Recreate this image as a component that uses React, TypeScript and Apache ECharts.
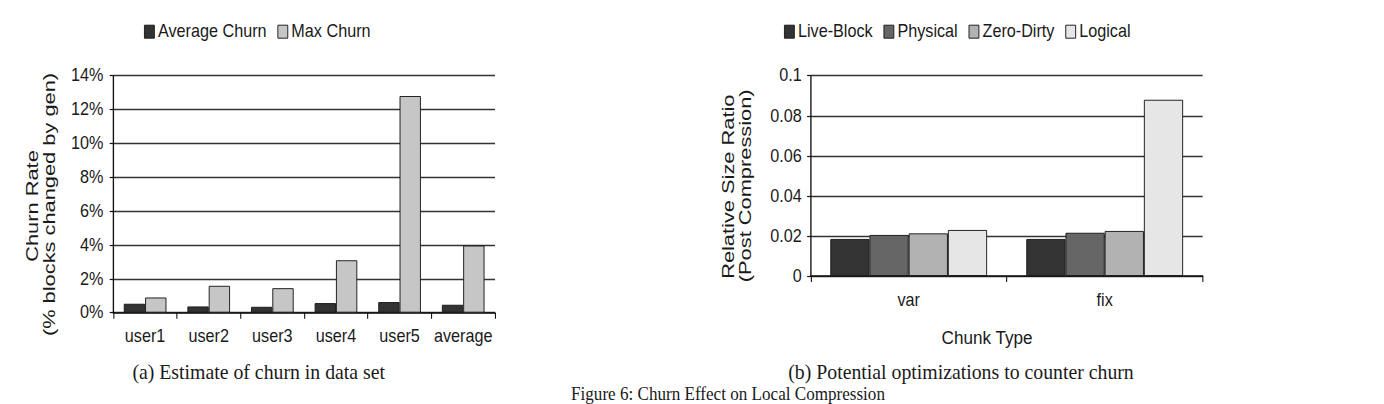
import React, { useEffect, useRef } from "react";
import * as echarts from "echarts";

// Figure artwork is laid out narrow: the whole canvas is drawn wider and squeezed horizontally.
const SQUEEZE = 0.9;
const PAGE_W = 1384;
const PAGE_H = 404;
const CHART_W = PAGE_W / SQUEEZE;
const sx = (v: number) => v / SQUEEZE;

// (a) churn per user, in percent
const churnUsers = ["user1", "user2", "user3", "user4", "user5", "average"];
const averageChurn = [0.53, 0.37, 0.35, 0.57, 0.63, 0.47];
const maxChurn = [0.9, 1.59, 1.45, 3.1, 12.8, 3.97];

// (b) relative size ratio after compression, per chunking type
const chunkTypes = ["var", "fix"];
const liveBlock = [0.0185, 0.0185];
const physical = [0.0205, 0.0216];
const zeroDirty = [0.0213, 0.0225];
const logical = [0.023, 0.088];

const SANS = "'Liberation Sans', Arial, Helvetica, sans-serif";
const SERIF = "'Liberation Serif', 'Times New Roman', Times, serif";
const INK = "#1a1a1a";

const barBorder = { borderColor: "#1a1a1a", borderWidth: 1 };

function axisCommon() {
  return {
    axisLine: { show: true, lineStyle: { color: "#111", width: 1.5 } },
    axisTick: { show: true, length: 4, lineStyle: { color: "#111", width: 1.2 } },
    splitLine: { show: true, lineStyle: { color: "#333", width: 1.4 } },
  };
}

function categoryAxis(gridIndex: number, data: string[]) {
  return {
    type: "category" as const,
    gridIndex,
    data,
    boundaryGap: true,
    axisLine: { show: true, lineStyle: { color: "#111", width: 1.5 } },
    axisTick: { show: true, interval: 0, length: 6, lineStyle: { color: "#111", width: 1.2 } },
    axisLabel: { interval: 0, margin: 15, color: INK, fontSize: 18, fontFamily: SANS },
    splitLine: { show: false },
  };
}

export default function App() {
  const ref = useRef<HTMLDivElement>(null);

  useEffect(() => {
    if (!ref.current) return;
    const chart = echarts.init(ref.current, null, { renderer: "svg" });

    const text = (t: string, x: number, y: number, size: number, family: string) => ({
      type: "text",
      x,
      y,
      silent: true,
      style: {
        text: t,
        fontSize: size,
        fontFamily: family,
        fill: INK,
        align: "center",
        verticalAlign: "middle",
      },
    });

    // Vertical axis titles: slim glyphs stretched along the reading direction.
    const vtext = (t: string, x: number, y: number) => ({
      type: "text",
      x,
      y,
      rotation: Math.PI / 2,
      scaleX: 1.18,
      scaleY: 1,
      silent: true,
      style: {
        text: t,
        fontSize: 18.5,
        fontFamily: SANS,
        fill: INK,
        align: "center",
        verticalAlign: "middle",
      },
    });

    const legendBase = {
      top: 22.7,
      padding: 0,
      itemWidth: 11,
      itemHeight: 13,
      itemGap: 12,
      icon: "rect",
      itemStyle: { borderColor: "#1a1a1a", borderWidth: 1 },
      textStyle: { color: INK, fontSize: 18, fontFamily: SANS, padding: [0, 0, 0, -1] },
    };

    chart.setOption({
      animation: false,
      backgroundColor: "#ffffff",
      legend: [
        { ...legendBase, data: ["Average Churn", "Max Churn"], left: sx(144) },
        { ...legendBase, data: ["Live-Block", "Physical", "Zero-Dirty", "Logical"], left: sx(784) },
      ],
      grid: [
        { left: sx(113.3), top: 75.7, width: sx(495 - 113.3), height: 237 },
        { left: sx(810.7), top: 75.7, width: sx(1202.7 - 810.7), height: 200.3 },
      ],
      xAxis: [categoryAxis(0, churnUsers), categoryAxis(1, chunkTypes)],
      yAxis: [
        {
          type: "value",
          gridIndex: 0,
          min: 0,
          max: 14,
          interval: 2,
          ...axisCommon(),
          axisLabel: {
            margin: 11,
            color: INK,
            fontSize: 18,
            fontFamily: SANS,
            formatter: "{value}%",
          },
        },
        {
          type: "value",
          gridIndex: 1,
          min: 0,
          max: 0.1,
          interval: 0.02,
          ...axisCommon(),
          axisLabel: {
            margin: 10,
            color: INK,
            fontSize: 18,
            fontFamily: SANS,
            formatter: (v: number) => String(Math.round(v * 100) / 100),
          },
        },
      ],
      series: [
        {
          name: "Average Churn",
          type: "bar",
          xAxisIndex: 0,
          yAxisIndex: 0,
          data: averageChurn,
          barGap: "0%",
          barCategoryGap: "33%",
          itemStyle: { color: "#333333", ...barBorder },
        },
        {
          name: "Max Churn",
          type: "bar",
          xAxisIndex: 0,
          yAxisIndex: 0,
          data: maxChurn,
          barGap: "0%",
          barCategoryGap: "33%",
          itemStyle: { color: "#c6c6c6", ...barBorder },
        },
        {
          name: "Live-Block",
          type: "bar",
          xAxisIndex: 1,
          yAxisIndex: 1,
          data: liveBlock,
          barGap: "0%",
          barCategoryGap: "20%",
          itemStyle: { color: "#333333", ...barBorder },
        },
        {
          name: "Physical",
          type: "bar",
          xAxisIndex: 1,
          yAxisIndex: 1,
          data: physical,
          barGap: "0%",
          barCategoryGap: "20%",
          itemStyle: { color: "#666666", ...barBorder },
        },
        {
          name: "Zero-Dirty",
          type: "bar",
          xAxisIndex: 1,
          yAxisIndex: 1,
          data: zeroDirty,
          barGap: "0%",
          barCategoryGap: "20%",
          itemStyle: { color: "#b2b2b2", ...barBorder },
        },
        {
          name: "Logical",
          type: "bar",
          xAxisIndex: 1,
          yAxisIndex: 1,
          data: logical,
          barGap: "0%",
          barCategoryGap: "20%",
          itemStyle: { color: "#e6e6e6", ...barBorder },
        },
      ],
      graphic: [
        vtext("Churn Rate", sx(32), 206),
        vtext("(% blocks changed by gen)", sx(49), 204.5),
        vtext("Relative Size Ratio", sx(728), 186.7),
        vtext("(Post Compression)", sx(745), 185.8),
        text("Chunk Type", sx(987), 337.7, 19, SANS),
        text("(a) Estimate of churn in data set", sx(258.7), 372, 22, SERIF),
        text("(b) Potential optimizations to counter churn", sx(961), 372, 22, SERIF),
        text("Figure 6: Churn Effect on Local Compression", sx(728), 393.5, 19, SERIF),
      ],
    });

    return () => chart.dispose();
  }, []);

  return (
    <div
      ref={ref}
      style={{
        position: "absolute",
        left: 0,
        top: 0,
        width: CHART_W,
        height: PAGE_H,
        transform: `scaleX(${SQUEEZE})`,
        transformOrigin: "0 0",
        background: "#ffffff",
      }}
    />
  );
}
